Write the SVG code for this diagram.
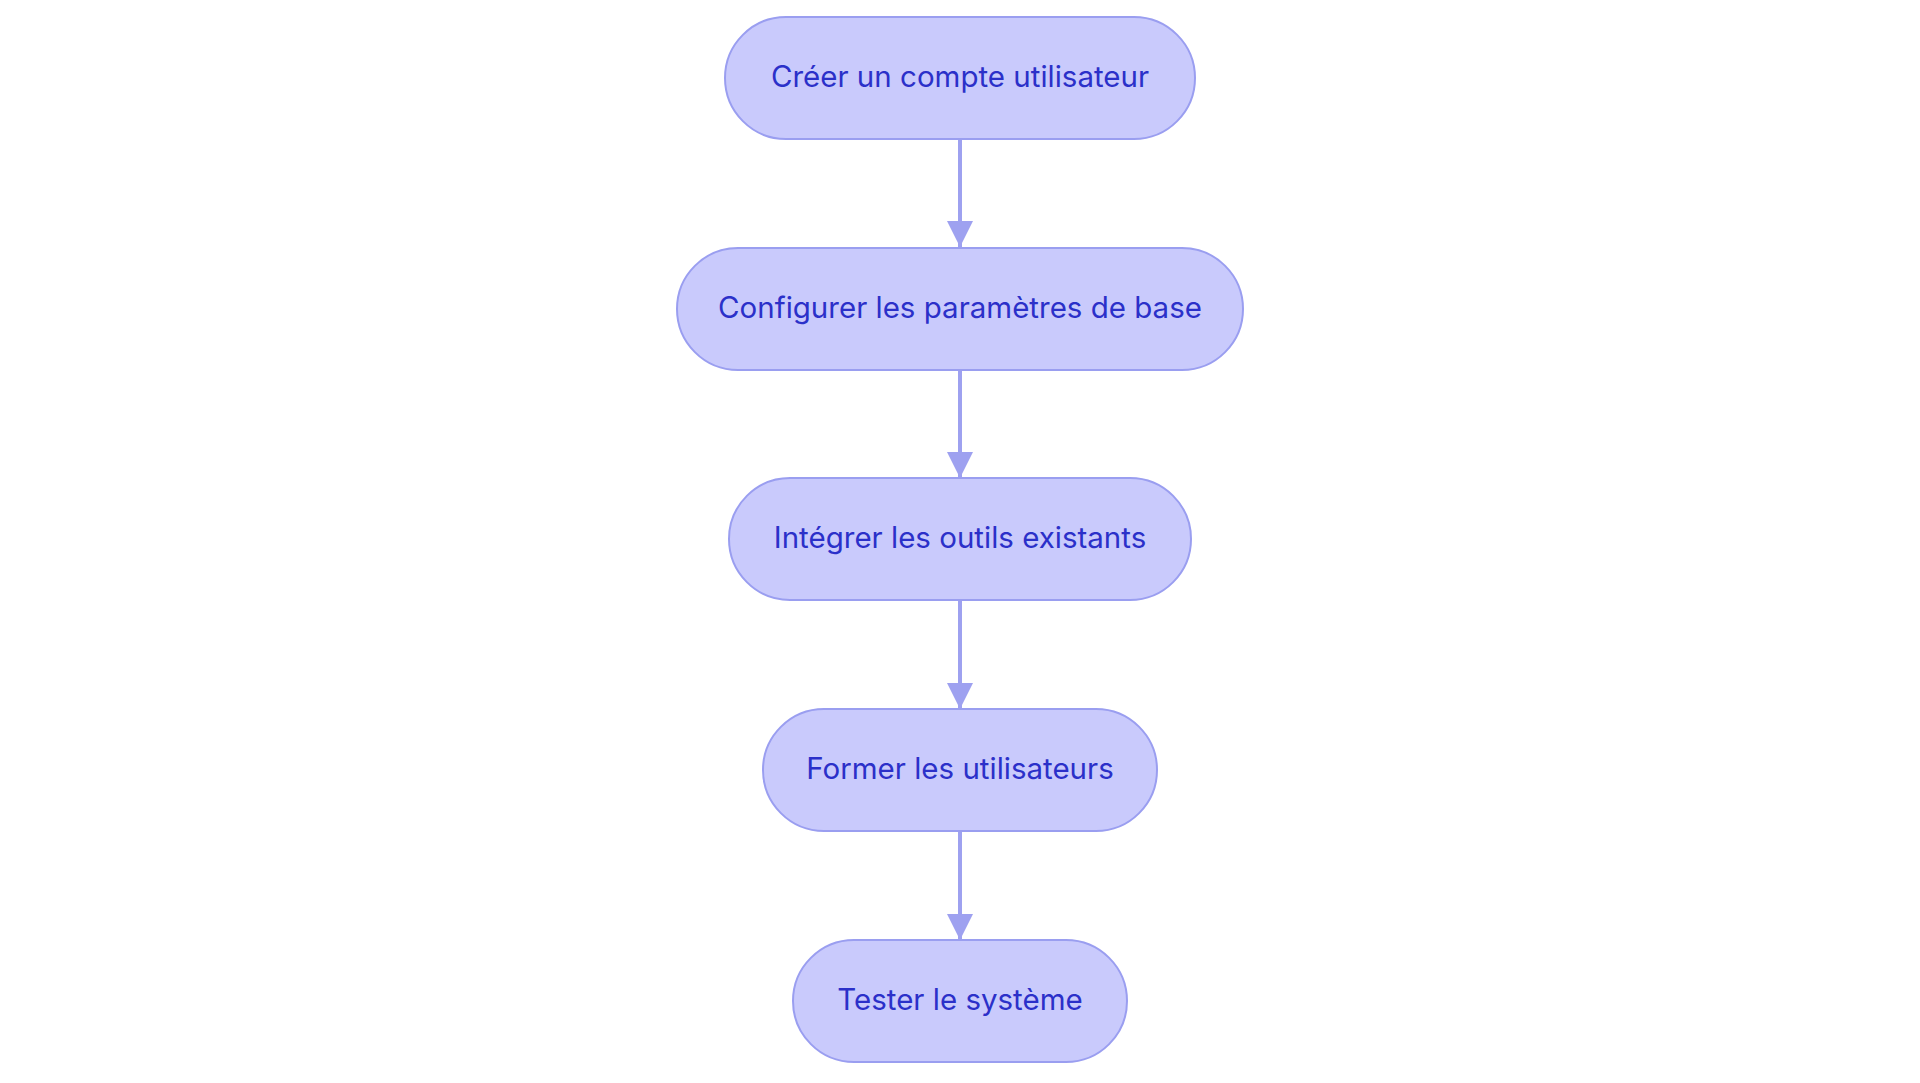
<svg xmlns="http://www.w3.org/2000/svg" width="1920" height="1083" viewBox="0 0 1920 1083">
<style>
.node rect{fill:#c9cafc;stroke:#9a9ef0;stroke-width:2}
.node text{font-family:Inter,"Noto Sans",sans-serif;font-size:29.5px;fill:#2b30c9;text-anchor:middle}
.edge{stroke:#9ea1f0;stroke-width:4;fill:none}
</style>
<defs>
<marker id="arrow" markerUnits="userSpaceOnUse" markerWidth="26" markerHeight="27" refX="26" refY="13" orient="auto">
<path d="M0,0 L26,13 L0,26 Z" fill="#9ea1f0"/>
</marker>
</defs>
<rect width="1920" height="1083" fill="#ffffff"/>
<g id="connectors">
<line class="edge" x1="960" y1="139" x2="960" y2="247" marker-end="url(#arrow)"/>
<line class="edge" x1="960" y1="370" x2="960" y2="478" marker-end="url(#arrow)"/>
<line class="edge" x1="960" y1="600" x2="960" y2="709" marker-end="url(#arrow)"/>
<line class="edge" x1="960" y1="831" x2="960" y2="940" marker-end="url(#arrow)"/>
</g>
<g id="n1" class="node">
<rect x="725" y="17" width="470" height="122" rx="61"/>
<text x="960" y="87">Créer un compte utilisateur</text>
</g>
<g id="n2" class="node">
<rect x="677" y="248" width="566" height="122" rx="61"/>
<text x="960" y="318">Configurer les paramètres de base</text>
</g>
<g id="n3" class="node">
<rect x="729" y="478" width="462" height="122" rx="61"/>
<text x="960" y="548">Intégrer les outils existants</text>
</g>
<g id="n4" class="node">
<rect x="763" y="709" width="394" height="122" rx="61"/>
<text x="960" y="779">Former les utilisateurs</text>
</g>
<g id="n5" class="node">
<rect x="793" y="940" width="334" height="122" rx="61"/>
<text x="960" y="1010">Tester le système</text>
</g>
</svg>
